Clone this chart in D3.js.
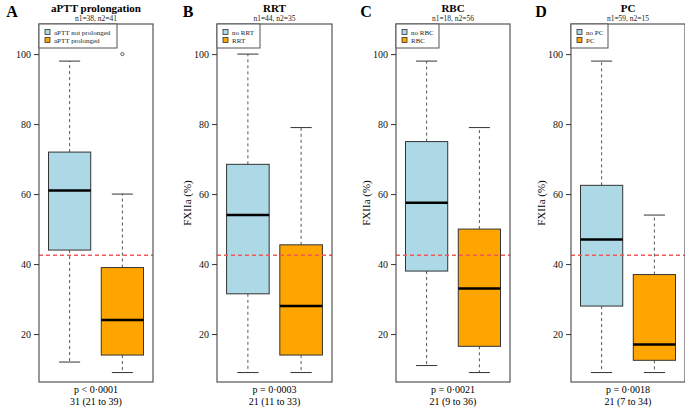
<!DOCTYPE html>
<html><head><meta charset="utf-8">
<script src="https://cdn.jsdelivr.net/npm/d3@7"></script>
<style>body{margin:0;background:#fff}text{font-family:"Liberation Serif","Times New Roman",serif}</style>
</head><body>
<svg id="c" width="685" height="408"></svg>
<script>
const letters = ["A","B","C","D"];
const titles = ["aPTT prolongation","RRT","RBC","PC"];
const subtitles = ["n1=38, n2=41","n1=44, n2=35","n1=18, n2=56","n1=59, n2=15"];
const legend1 = ["aPTT not prolonged","no RRT","no RBC","no PC"];
const legend2 = ["aPTT prolonged","RRT","RBC","PC"];
const pvalues = ["p < 0\u00b70001","p = 0\u00b70003","p = 0\u00b70021","p = 0\u00b70018"];
const medians = ["31 (21 to 39)","21 (11 to 33)","21 (9 to 36)","21 (7 to 34)"];
// [lower whisker, Q1, median, Q3, upper whisker]
const group1 = [[12,44,61,72,98],[9,31.5,54,68.5,100],[11,38,57.5,75,98],[9,28,47,62.5,98]];
const group2 = [[9,14,24,39,60],[9,14,28,45.5,79],[9,16.5,33,50,79],[9,12.5,17,37,54]];
const outliers2 = [[100],[],[],[]];
const yTicks = [20,40,60,80,100];
const cutoff = 42.5;

const colors = ["#ADD8E6","#FFA500"];
const frameLefts = [39,217,396,571];
const frameRights = [153,332,510,685];
const frameTop = 24, frameBottom = 382;
const svg = d3.select("#c");

const y = d3.scaleLinear().domain([6.3,108.6]).range([frameBottom, frameTop]);

titles.forEach((t,i)=>{
  const L = frameLefts[i], R = frameRights[i], cx=(L+R)/2;
  const x = d3.scaleLinear().domain([0.42,2.58]).range([L,R]);
  const g = svg.append("g");
  const bw = (x(1.4)-x(0.6));
  const cap = bw/2;
  [group1[i],group2[i]].forEach((s,j)=>{
    const c = x(j+1);
    g.append("line").attr("x1",c).attr("x2",c).attr("y1",y(s[3])).attr("y2",y(s[4]))
      .attr("stroke","#555").attr("stroke-dasharray","3,3").attr("stroke-width",1);
    g.append("line").attr("x1",c).attr("x2",c).attr("y1",y(s[1])).attr("y2",y(s[0]))
      .attr("stroke","#555").attr("stroke-dasharray","3,3").attr("stroke-width",1);
    g.append("line").attr("x1",c-cap/2).attr("x2",c+cap/2).attr("y1",y(s[4])).attr("y2",y(s[4]))
      .attr("stroke","#333").attr("stroke-width",1);
    g.append("line").attr("x1",c-cap/2).attr("x2",c+cap/2).attr("y1",y(s[0])).attr("y2",y(s[0]))
      .attr("stroke","#333").attr("stroke-width",1);
    g.append("rect").attr("x",c-bw/2).attr("width",bw).attr("y",y(s[3])).attr("height",y(s[1])-y(s[3]))
      .attr("fill",colors[j]).attr("stroke","#333").attr("stroke-width",1);
    g.append("line").attr("x1",c-bw/2).attr("x2",c+bw/2).attr("y1",y(s[2])).attr("y2",y(s[2]))
      .attr("stroke","#000").attr("stroke-width",2.5);
  });
  outliers2[i].forEach(v=>{
    g.append("circle").attr("cx",x(2)).attr("cy",y(v)).attr("r",1.6).attr("fill","none").attr("stroke","#333").attr("stroke-width",0.8);
  });
  g.append("line").attr("x1",L).attr("x2",R).attr("y1",y(cutoff)).attr("y2",y(cutoff))
    .attr("stroke","#F25A5A").attr("stroke-dasharray","4,3").attr("stroke-width",1.4);
  g.append("rect").attr("x",L).attr("y",frameTop).attr("width",R-L).attr("height",frameBottom-frameTop)
    .attr("fill","none").attr("stroke","#555").attr("stroke-width",1.2);
  const ax = svg.append("g").attr("transform",`translate(${L},0)`)
    .call(d3.axisLeft(y).tickValues(yTicks).tickSize(5).tickPadding(3));
  ax.select(".domain").remove();
  ax.selectAll("line").attr("stroke","#333");
  ax.selectAll("text").attr("font-size","10px").attr("fill","#111").style("font-family","Liberation Serif, serif");
  const lw = [78,43,43,37][i];
  svg.append("rect").attr("x",L).attr("y",frameTop).attr("width",lw).attr("height",24)
    .attr("fill","#fff").attr("stroke","#555").attr("stroke-width",1);
  [legend1[i],legend2[i]].forEach((t2,j)=>{
    const yy = frameTop+8+j*8;
    svg.append("rect").attr("x",L+6).attr("y",yy-2.5).attr("width",5).attr("height",5)
      .attr("fill",colors[j]).attr("stroke","#333").attr("stroke-width",0.8);
    svg.append("text").attr("x",L+15).attr("y",yy+2.5).attr("font-size","7px").attr("fill","#222").text(t2);
  });
  svg.append("text").attr("x",cx).attr("y",12).attr("text-anchor","middle").attr("font-size","11px").attr("font-weight","bold").text(t);
  svg.append("text").attr("x",cx).attr("y",21).attr("text-anchor","middle").attr("font-size","7.5px").attr("fill","#222").text(subtitles[i]);
  svg.append("text").attr("x",[12,188,366,541][i]).attr("y",17).attr("text-anchor","middle").attr("font-size","16px").attr("font-weight","bold").text(letters[i]);
  if(i>0){
    svg.append("text").attr("transform",`translate(${L-26},${(frameTop+frameBottom)/2}) rotate(-90)`)
      .attr("text-anchor","middle").attr("font-size","11px").text("FXIIa (%)");
  }
  svg.append("text").attr("x",cx).attr("y",393).attr("text-anchor","middle").attr("font-size","10px").text(pvalues[i]);
  svg.append("text").attr("x",cx).attr("y",405).attr("text-anchor","middle").attr("font-size","10px").text(medians[i]);
});
</script>
</body></html>
